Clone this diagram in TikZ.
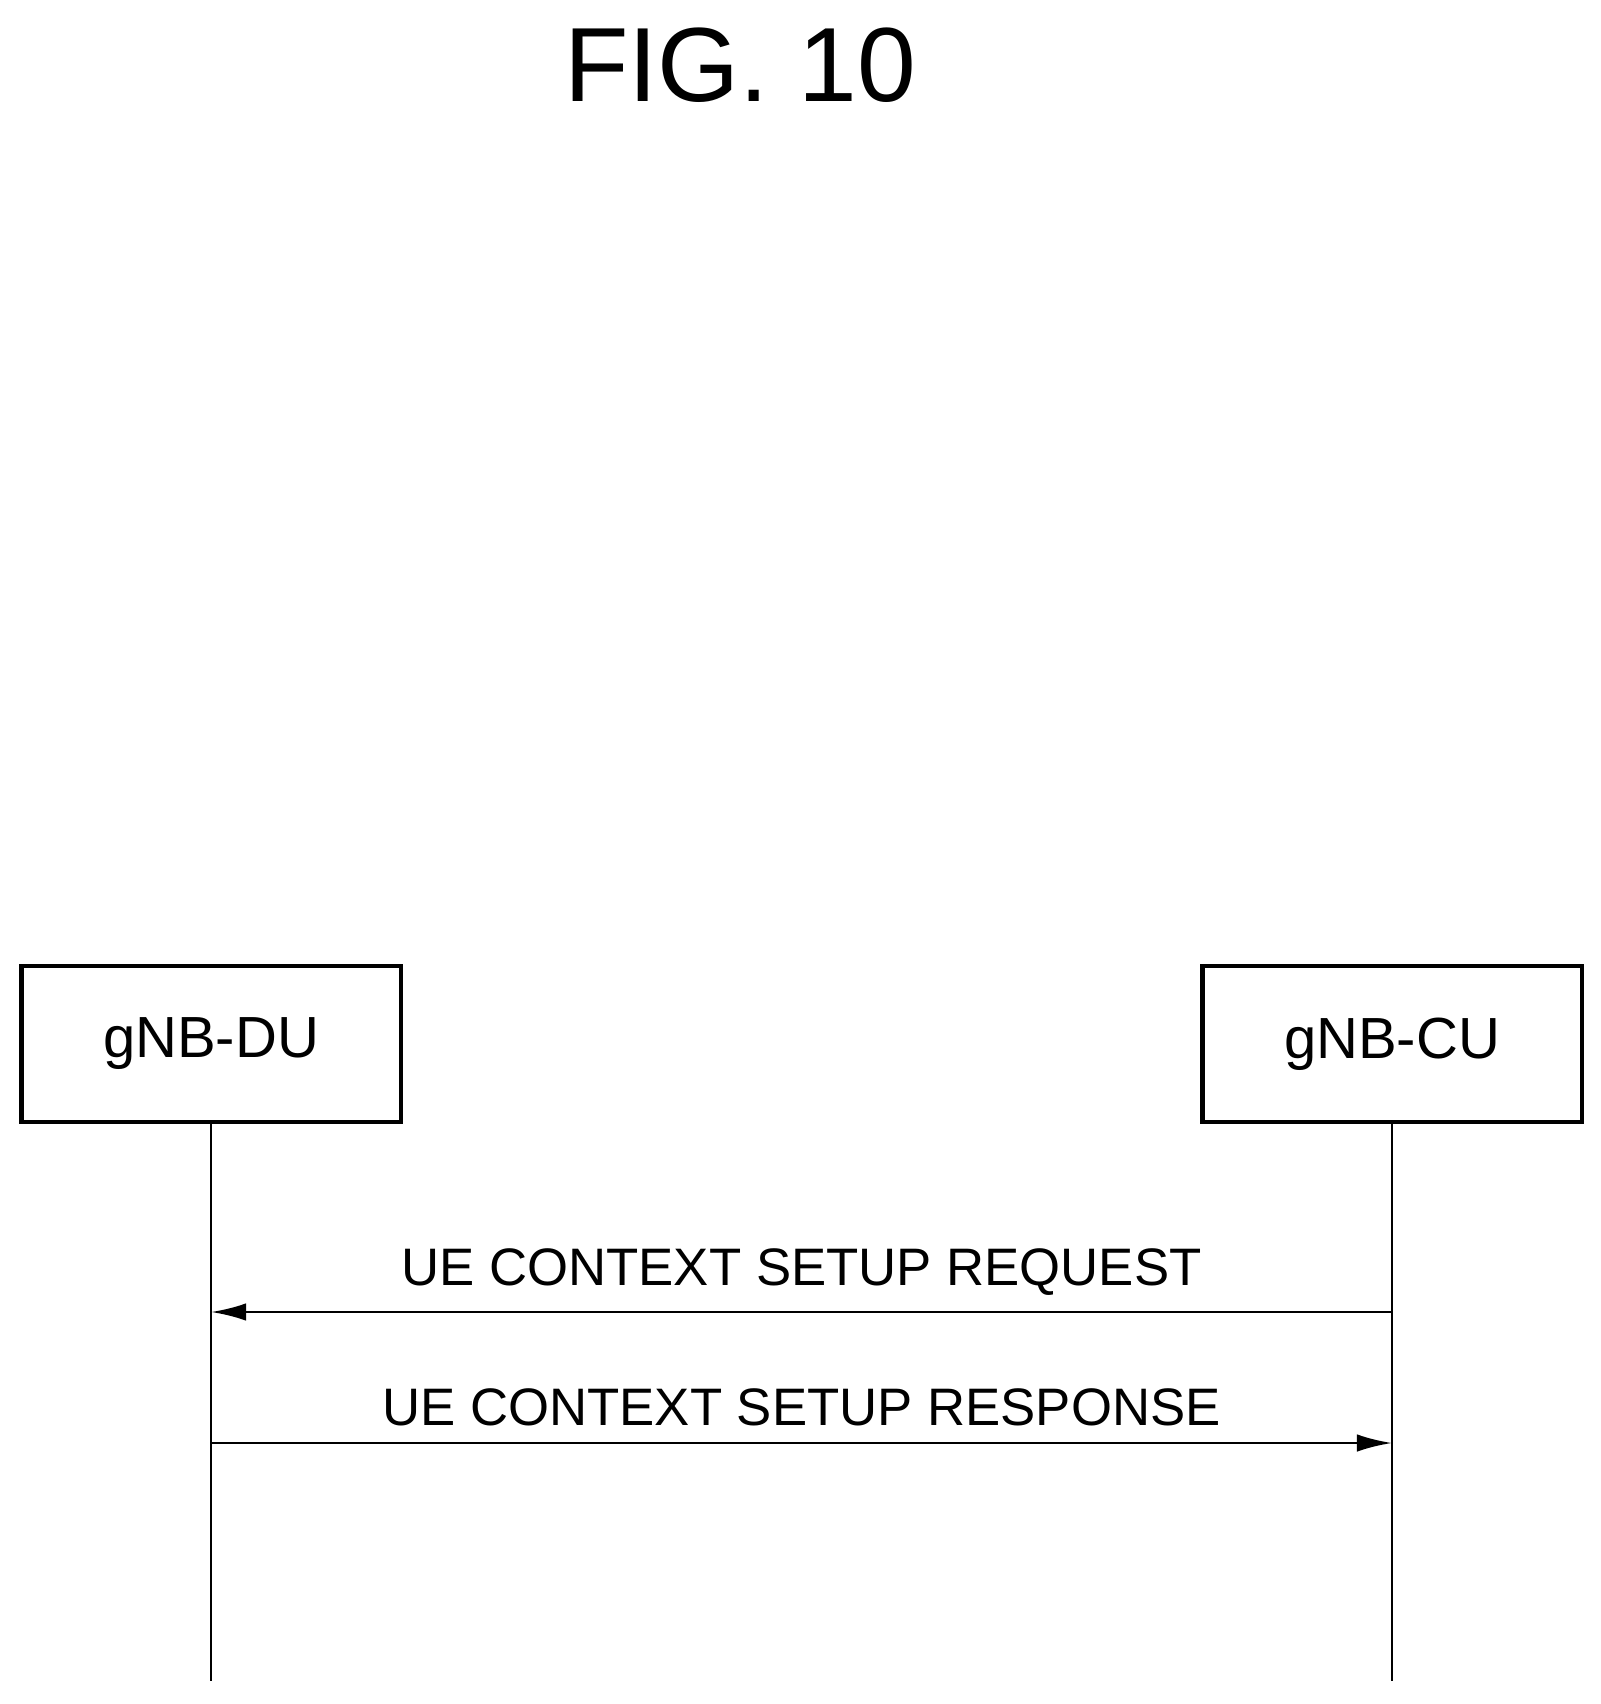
\documentclass[tikz,border=0pt]{standalone}
\usepackage{fontspec}
\setmainfont{Liberation Sans}
\usetikzlibrary{arrows.meta}
\begin{document}
\begin{tikzpicture}[x=0.01cm, y=-0.01cm,
    entity/.style={draw, line width=1.2pt, minimum width=3.79cm, minimum height=1.56cm, font=\fontsize{16.5}{20}\selectfont},
    msg/.style={line width=0.8pt, -{Latex[length=10pt, width=5pt]}},
    msglabel/.style={above=1pt, font=\fontsize{15}{18}\selectfont},
    lifeline/.style={line width=0.8pt}]
    \useasboundingbox (0,0) rectangle (1601,1704);
    % title
    \node[font=\fontsize{30}{36}\selectfont] (title) at (740,65) {FIG. 10};
    % entities
    \node[entity] (du) at (211,1044) {gNB-DU};
    \node[entity] (cu) at (1392,1044) {gNB-CU};
    \coordinate (duend) at (211,1681);
    \coordinate (cuend) at (1392,1681);
    \draw[lifeline] (du.south) -- (duend);
    \draw[lifeline] (cu.south) -- (cuend);
    % messages
    \coordinate (req1) at (1392,1312);
    \coordinate (req2) at (211,1312);
    \coordinate (rsp1) at (211,1443);
    \coordinate (rsp2) at (1392,1443);
    \draw[msg] (req1) -- node[msglabel] (reqlabel) {UE CONTEXT SETUP REQUEST} (req2);
    \draw[msg] (rsp1) -- node[msglabel] (rsplabel) {UE CONTEXT SETUP RESPONSE} (rsp2);
\end{tikzpicture}
\end{document}
